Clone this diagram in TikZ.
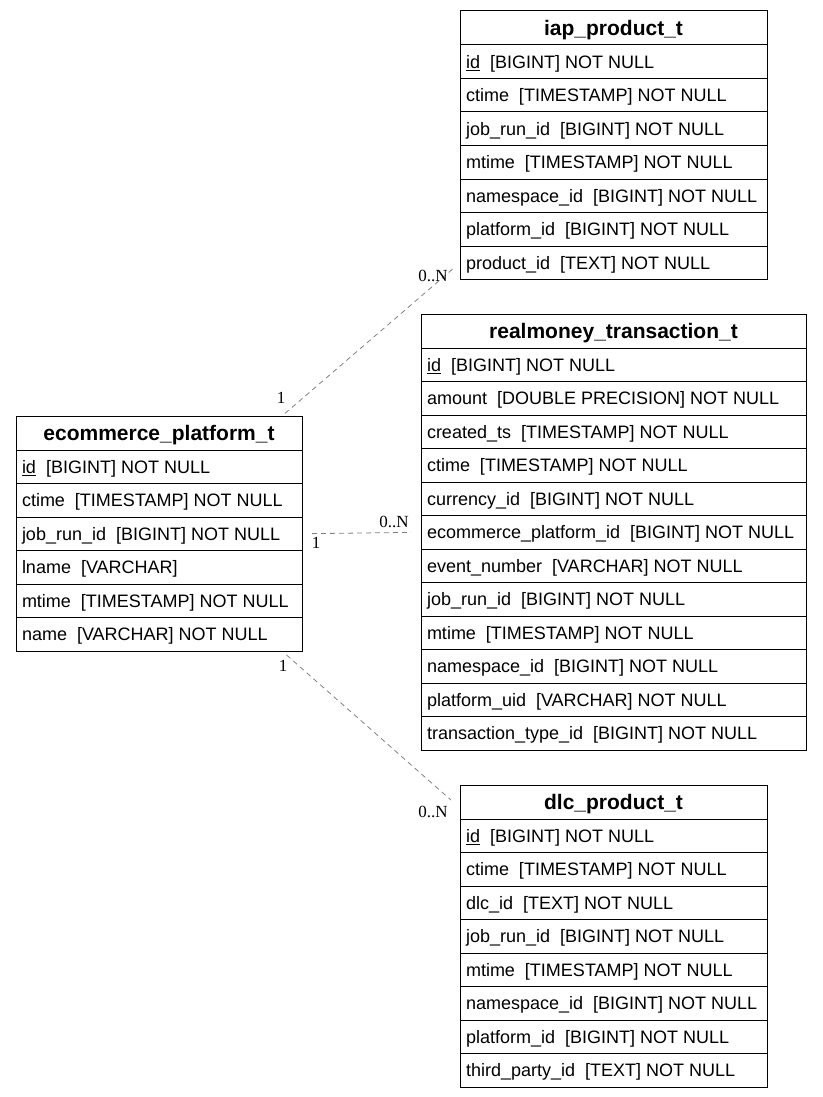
\documentclass[tikz,border=0pt]{standalone}
\usepackage{fontspec}
\setmainfont{Liberation Sans}
\newfontfamily\cardfont{Liberation Serif}
\usetikzlibrary{positioning,calc}

\begin{document}
\begin{tikzpicture}[
  x=1pt, y=-1pt,
  node distance=0pt,
  hdr/.style={rectangle, draw=black, line width=1pt, fill=white, outer sep=0pt,
              inner sep=0pt, minimum width=#1, minimum height=34pt, text depth=1pt,
              font=\fontsize{21}{24}\selectfont\bfseries},
  fld/.style={rectangle, draw=black, line width=1pt, fill=white, outer sep=0pt,
              inner xsep=6pt, inner ysep=0pt, minimum height=33.5pt, text depth=0pt,
              font=\fontsize{18}{21}\selectfont,
              execute at begin node={\hbox to #1\bgroup},
              execute at end node={\hfil\egroup}},
  rel/.style={gray, line width=0.8pt, dash pattern=on 5pt off 4pt},
  card/.style={font=\cardfont\fontsize{17}{17}\selectfont, inner sep=1pt}
]
\useasboundingbox (0,0) rectangle (822,1097);

% iap_product_t
\node[hdr=307pt, anchor=north west] (iap) at (460,11) {iap\_product\_t};
\node[fld=295pt, below=of iap]   (iap-1) {\underline{id}~~[BIGINT] NOT NULL};
\node[fld=295pt, below=of iap-1] (iap-2) {ctime~~[TIMESTAMP] NOT NULL};
\node[fld=295pt, below=of iap-2] (iap-3) {job\_run\_id~~[BIGINT] NOT NULL};
\node[fld=295pt, below=of iap-3] (iap-4) {mtime~~[TIMESTAMP] NOT NULL};
\node[fld=295pt, below=of iap-4] (iap-5) {namespace\_id~~[BIGINT] NOT NULL};
\node[fld=295pt, below=of iap-5] (iap-6) {platform\_id~~[BIGINT] NOT NULL};
\node[fld=295pt, below=of iap-6] (iap-7) {product\_id~~[TEXT] NOT NULL};

% realmoney_transaction_t
\node[hdr=385pt, anchor=north west] (rm) at (421,314) {realmoney\_transaction\_t};
\node[fld=373pt, below=of rm]     (rm-1)  {\underline{id}~~[BIGINT] NOT NULL};
\node[fld=373pt, below=of rm-1]   (rm-2)  {amount~~[DOUBLE PRECISION] NOT NULL};
\node[fld=373pt, below=of rm-2]   (rm-3)  {created\_ts~~[TIMESTAMP] NOT NULL};
\node[fld=373pt, below=of rm-3]   (rm-4)  {ctime~~[TIMESTAMP] NOT NULL};
\node[fld=373pt, below=of rm-4]   (rm-5)  {currency\_id~~[BIGINT] NOT NULL};
\node[fld=373pt, below=of rm-5]   (rm-6)  {ecommerce\_platform\_id~~[BIGINT] NOT NULL};
\node[fld=373pt, below=of rm-6]   (rm-7)  {event\_number~~[VARCHAR] NOT NULL};
\node[fld=373pt, below=of rm-7]   (rm-8)  {job\_run\_id~~[BIGINT] NOT NULL};
\node[fld=373pt, below=of rm-8]   (rm-9)  {mtime~~[TIMESTAMP] NOT NULL};
\node[fld=373pt, below=of rm-9]   (rm-10) {namespace\_id~~[BIGINT] NOT NULL};
\node[fld=373pt, below=of rm-10]  (rm-11) {platform\_uid~~[VARCHAR] NOT NULL};
\node[fld=373pt, below=of rm-11]  (rm-12) {transaction\_type\_id~~[BIGINT] NOT NULL};

% ecommerce_platform_t
\node[hdr=286pt, anchor=north west] (ep) at (16,416) {ecommerce\_platform\_t};
\node[fld=274pt, below=of ep]   (ep-1) {\underline{id}~~[BIGINT] NOT NULL};
\node[fld=274pt, below=of ep-1] (ep-2) {ctime~~[TIMESTAMP] NOT NULL};
\node[fld=274pt, below=of ep-2] (ep-3) {job\_run\_id~~[BIGINT] NOT NULL};
\node[fld=274pt, below=of ep-3] (ep-4) {lname~~[VARCHAR]};
\node[fld=274pt, below=of ep-4] (ep-5) {mtime~~[TIMESTAMP] NOT NULL};
\node[fld=274pt, below=of ep-5] (ep-6) {name~~[VARCHAR] NOT NULL};

% dlc_product_t
\node[hdr=307pt, anchor=north west] (dlc) at (460,785) {dlc\_product\_t};
\node[fld=295pt, below=of dlc]   (dlc-1) {\underline{id}~~[BIGINT] NOT NULL};
\node[fld=295pt, below=of dlc-1] (dlc-2) {ctime~~[TIMESTAMP] NOT NULL};
\node[fld=295pt, below=of dlc-2] (dlc-3) {dlc\_id~~[TEXT] NOT NULL};
\node[fld=295pt, below=of dlc-3] (dlc-4) {job\_run\_id~~[BIGINT] NOT NULL};
\node[fld=295pt, below=of dlc-4] (dlc-5) {mtime~~[TIMESTAMP] NOT NULL};
\node[fld=295pt, below=of dlc-5] (dlc-6) {namespace\_id~~[BIGINT] NOT NULL};
\node[fld=295pt, below=of dlc-6] (dlc-7) {platform\_id~~[BIGINT] NOT NULL};
\node[fld=295pt, below=of dlc-7] (dlc-8) {third\_party\_id~~[TEXT] NOT NULL};

% relations
\draw[rel, shorten <=4pt, shorten >=6pt] ($(ep.north east)+(-20,0)$) -- (iap-7.west);
\draw[rel, shorten <=10pt, shorten >=10pt] (ep-3.east) -- (rm-6.west);
\draw[rel, shorten <=6pt, shorten >=12pt] ($(ep-6.south east)+(-20,0)$) -- ([yshift=-6pt]dlc.west);

% cardinalities
\node[card] (c1a) at (281,398) {1};
\node[card] (c1b) at (433,276) {0..N};
\node[card] (c2a) at (316,543) {1};
\node[card] (c2b) at (394,522) {0..N};
\node[card] (c3a) at (283,666) {1};
\node[card] (c3b) at (433,812) {0..N};
\end{tikzpicture}
\end{document}
